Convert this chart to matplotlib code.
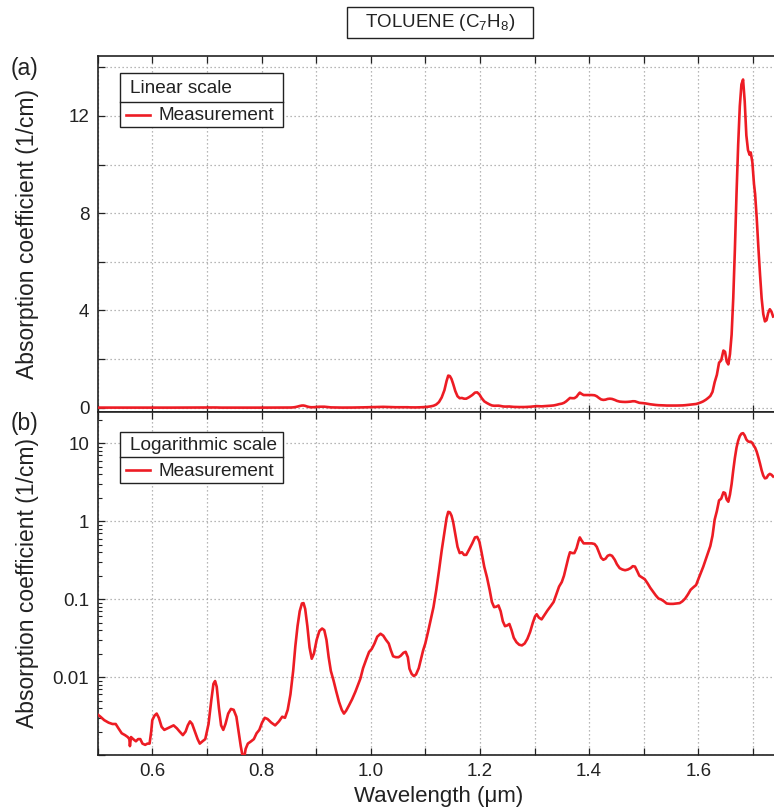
import numpy as np
import matplotlib.pyplot as plt
from matplotlib.patches import Rectangle
from matplotlib.lines import Line2D

plt.rcParams['font.family'] = ['Liberation Sans', 'DejaVu Sans']
plt.rcParams['mathtext.fontset'] = 'custom'
plt.rcParams['mathtext.rm'] = 'Liberation Sans'
plt.rcParams['mathtext.it'] = 'Liberation Sans:italic'

# toluene absorption spectrum, wavelength in um, absorption in 1/cm
wavelength = [
    0.500, 0.505, 0.512, 0.520, 0.527, 0.533, 0.538, 0.544, 0.550, 0.555,
    0.558, 0.559, 0.561, 0.565, 0.570, 0.574, 0.578, 0.582, 0.587, 0.591,
    0.595, 0.598, 0.600, 0.604, 0.608, 0.612, 0.617, 0.622, 0.628, 0.634,
    0.639, 0.645, 0.650, 0.656, 0.661, 0.665, 0.669, 0.673, 0.678, 0.683,
    0.687, 0.692, 0.697, 0.703, 0.708, 0.712, 0.715, 0.718, 0.722, 0.726,
    0.730, 0.734, 0.739, 0.744, 0.749, 0.754, 0.758, 0.762, 0.765, 0.768,
    0.771, 0.775, 0.781, 0.786, 0.791, 0.796, 0.801, 0.806, 0.811, 0.818,
    0.825, 0.832, 0.838, 0.843, 0.848, 0.853, 0.858, 0.862, 0.866, 0.870,
    0.874, 0.877, 0.880, 0.884, 0.888, 0.892, 0.896, 0.901, 0.906, 0.911,
    0.915, 0.919, 0.923, 0.927, 0.932, 0.937, 0.942, 0.947, 0.951, 0.955,
    0.960, 0.966, 0.972, 0.977, 0.981, 0.986, 0.992, 0.997, 1.002, 1.007,
    1.012, 1.018, 1.023, 1.028, 1.033, 1.037, 1.041, 1.046, 1.051, 1.055,
    1.060, 1.064, 1.068, 1.071, 1.075, 1.079, 1.083, 1.088, 1.092, 1.096,
    1.100, 1.105, 1.110, 1.115, 1.120, 1.125, 1.130, 1.135, 1.139, 1.142,
    1.145, 1.148, 1.151, 1.155, 1.159, 1.163, 1.167, 1.171, 1.175, 1.180,
    1.186, 1.191, 1.195, 1.199, 1.203, 1.208, 1.213, 1.218, 1.222, 1.226,
    1.230, 1.234, 1.238, 1.242, 1.246, 1.250, 1.254, 1.258, 1.262, 1.267,
    1.272, 1.277, 1.282, 1.287, 1.292, 1.297, 1.301, 1.304, 1.308, 1.313,
    1.318, 1.324, 1.330, 1.335, 1.340, 1.345, 1.350, 1.354, 1.358, 1.362,
    1.365, 1.369, 1.373, 1.377, 1.381, 1.383, 1.386, 1.390, 1.395, 1.400,
    1.405, 1.410, 1.414, 1.418, 1.422, 1.426, 1.430, 1.434, 1.438, 1.442,
    1.447, 1.451, 1.456, 1.461, 1.466, 1.471, 1.476, 1.480, 1.484, 1.488,
    1.492, 1.497, 1.502, 1.507, 1.512, 1.517, 1.522, 1.527, 1.532, 1.537,
    1.542, 1.548, 1.554, 1.560, 1.566, 1.571, 1.576, 1.581, 1.586, 1.591,
    1.596, 1.600, 1.605, 1.609, 1.614, 1.618, 1.622, 1.626, 1.630, 1.634,
    1.638, 1.642, 1.646, 1.649, 1.652, 1.655, 1.658, 1.661, 1.664, 1.667,
    1.670, 1.673, 1.676, 1.679, 1.682, 1.685, 1.688, 1.691, 1.694, 1.696,
    1.699, 1.702, 1.704, 1.707, 1.710, 1.713, 1.716, 1.719, 1.722, 1.725,
    1.728, 1.731, 1.734, 1.737,
]
absorption = [
    0.0033, 0.0031, 0.0028, 0.0026, 0.0025, 0.0025, 0.0022, 0.0019, 0.0018, 0.0017,
    0.0016, 0.0013, 0.0017, 0.0016, 0.0015, 0.0016, 0.0016, 0.0014, 0.00135, 0.0014,
    0.0014, 0.0020, 0.0028, 0.0032, 0.0034, 0.0030, 0.0023, 0.0021, 0.0022, 0.0023,
    0.0024, 0.0022, 0.0020, 0.0018, 0.0020, 0.0024, 0.0027, 0.0025, 0.0020, 0.0016,
    0.0014, 0.0015, 0.0016, 0.0025, 0.0050, 0.0082, 0.0089, 0.0075, 0.0040, 0.0024,
    0.0021, 0.0025, 0.0034, 0.0039, 0.0038, 0.0031, 0.0020, 0.0013, 0.0010, 0.0009,
    0.0012, 0.0014, 0.0015, 0.0016, 0.0019, 0.0021, 0.0026, 0.0030, 0.0029, 0.0026,
    0.0024, 0.0027, 0.0031, 0.0030, 0.0038, 0.0060, 0.012, 0.025, 0.045, 0.070,
    0.088, 0.089, 0.075, 0.045, 0.024, 0.0172, 0.020, 0.030, 0.039, 0.042,
    0.040, 0.030, 0.018, 0.012, 0.0090, 0.0065, 0.0048, 0.0038, 0.0034, 0.0037,
    0.0043, 0.0052, 0.0065, 0.0080, 0.0095, 0.0130, 0.0170, 0.021, 0.023, 0.027,
    0.033, 0.036, 0.034, 0.030, 0.027, 0.022, 0.0185, 0.0180, 0.0180, 0.0188,
    0.0205, 0.0211, 0.018, 0.0128, 0.0110, 0.0103, 0.0108, 0.013, 0.017, 0.022,
    0.027, 0.038, 0.055, 0.079, 0.13, 0.23, 0.42, 0.72, 1.10, 1.32,
    1.30, 1.18, 0.98, 0.68, 0.47, 0.39, 0.40, 0.37, 0.37, 0.43,
    0.52, 0.62, 0.63, 0.55, 0.40, 0.26, 0.19, 0.13, 0.092, 0.079,
    0.080, 0.083, 0.070, 0.052, 0.045, 0.046, 0.048, 0.040, 0.032, 0.028,
    0.026, 0.0255, 0.027, 0.031, 0.038, 0.050, 0.060, 0.064, 0.058, 0.055,
    0.062, 0.072, 0.082, 0.092, 0.115, 0.145, 0.166, 0.20, 0.26, 0.34,
    0.40, 0.39, 0.39, 0.45, 0.57, 0.62, 0.57, 0.52, 0.52, 0.52,
    0.52, 0.51, 0.47, 0.40, 0.34, 0.32, 0.33, 0.36, 0.37, 0.36,
    0.32, 0.28, 0.25, 0.24, 0.235, 0.24, 0.25, 0.265, 0.262, 0.23,
    0.20, 0.19, 0.18, 0.16, 0.14, 0.125, 0.112, 0.102, 0.099, 0.094,
    0.088, 0.087, 0.087, 0.088, 0.089, 0.094, 0.102, 0.115, 0.132, 0.142,
    0.152, 0.18, 0.22, 0.26, 0.33, 0.40, 0.48, 0.65, 1.05, 1.35,
    1.85, 1.95, 2.35, 2.30, 1.90, 1.78, 2.2, 3.0, 4.5, 6.5,
    8.8, 10.8, 12.4, 13.3, 13.5, 12.6, 11.2, 10.6, 10.4, 10.5,
    10.1, 9.2, 8.8, 7.8, 6.6, 5.5, 4.5, 3.85, 3.55, 3.6,
    3.9, 4.05, 3.95, 3.75,
]

lin_ticks = [0, 2, 4, 6, 8, 10, 12, 14]
lin_labels = ['0', '', '4', '', '8', '', '12', '']
log_ticks = [1e-3, 1e-2, 1e-1, 1, 10]
log_labels = ['', '0.01', '0.1', '1', '10']
x_ticks = [0.5, 0.6, 0.7, 0.8, 0.9, 1.0, 1.1, 1.2, 1.3, 1.4, 1.5, 1.6, 1.7]
x_labels = ['', '0.6', '', '0.8', '', '1.0', '', '1.2', '', '1.4', '', '1.6', '']

W, H = 774, 807
RED = '#ed1c24'
INK = '#222222'

fig = plt.figure(figsize=(W / 100, H / 100), dpi=100)


def fx(px):
    return px / W


def fy(py):
    return 1 - py / H


left, right = 97.7, 780.0
ax1 = fig.add_axes([fx(left), fy(412.3), fx(right - left), (412.3 - 55.7) / H])
ax2 = fig.add_axes([fx(left), fy(755.0), fx(right - left), (755.0 - 412.3) / H])

xmax = 0.5 + (right - left) / 546.0
for ax in (ax1, ax2):
    ax.plot(wavelength, absorption, color=RED, lw=1.9, zorder=3)
    ax.set_xlim(0.5, xmax)
    ax.set_xticks(x_ticks)
    ax.grid(True, color='#a0a0a0', lw=0.9, linestyle=(0, (1, 2.2)))
    ax.tick_params(direction='in', top=True, right=False, length=5, width=0.9,
                   colors=INK, labelsize=13.5, pad=6)
    ax.tick_params(which='minor', direction='in', length=3, width=0.8, colors=INK)
    for s in ax.spines.values():
        s.set_color(INK)
        s.set_linewidth(1.2)

ax1.set_ylim(-0.19, 14.48)
ax1.set_yticks(lin_ticks)
ax1.set_yticklabels(lin_labels)
ax1.set_xticklabels([])

ax2.set_yscale('log')
ax2.set_ylim(1e-3, 25)
ax2.set_yticks(log_ticks)
ax2.set_yticklabels(log_labels)
ax2.set_xticklabels(x_labels)
ax2.grid(False, which='minor')

ax2.set_xlabel('Wavelength (μm)', fontsize=16, color=INK, labelpad=4)

fig.text(fx(28), fy(234), 'Absorption coefficient (1/cm)', rotation=90,
         ha='center', va='center', fontsize=16.5, color=INK)
fig.text(fx(28), fy(583), 'Absorption coefficient (1/cm)', rotation=90,
         ha='center', va='center', fontsize=16.5, color=INK)
fig.text(fx(25), fy(68), '(a)', ha='center', va='center', fontsize=16.5, color=INK)
fig.text(fx(25), fy(424), '(b)', ha='center', va='center', fontsize=16.5, color=INK)


def box(x0, y0, x1, y1):
    fig.add_artist(Rectangle((fx(x0), fy(y1)), fx(x1 - x0), (y1 - y0) / H,
                             transform=fig.transFigure, facecolor='white',
                             edgecolor=INK, lw=1.0, zorder=10))


def hline(x0, x1, y, **kw):
    fig.add_artist(Line2D([fx(x0), fx(x1)], [fy(y), fy(y)],
                          transform=fig.transFigure, zorder=11, **kw))


# title box
box(347, 7, 533, 38)
fig.text(fx(440), fy(22.5), 'TOLUENE (C$_7$H$_8$)', ha='center', va='center',
         fontsize=13.5, color=INK, zorder=12)

# legend boxes
for (top, sep, bot, title) in [(73.3, 101.7, 127.3, 'Linear scale'),
                               (431.7, 457.3, 482.7, 'Logarithmic scale')]:
    box(120.5, top, 283.3, bot)
    hline(120.5, 283.3, sep, color=INK, lw=1.0)
    fig.text(fx(130), fy((top + sep) / 2 + 1), title, ha='left', va='center',
             fontsize=13.7, color=INK, zorder=12)
    hline(126, 150, (sep + bot) / 2, color=RED, lw=1.9)
    fig.text(fx(159), fy((sep + bot) / 2 + 1), 'Measurement', ha='left',
             va='center', fontsize=13.7, color=INK, zorder=12)

fig.savefig('out.png', dpi=100)
